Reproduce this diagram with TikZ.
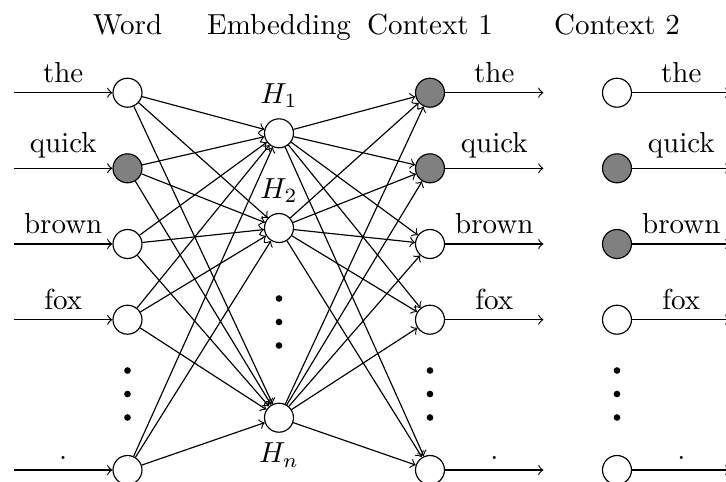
\documentclass[tikz,border=0pt]{standalone}
\begin{document}
\begin{tikzpicture}[x=0.345pt,y=-0.345pt,
  neuron/.style={circle,draw,minimum size=10pt,inner sep=0pt},
  on/.style={neuron,fill=gray},
  off/.style={neuron,fill=white},
  link/.style={->},
  wordlabel/.style={midway,above},
  heading/.style={anchor=base},
  bigdot/.style={circle,fill=black,inner sep=0pt,minimum size=2.3pt}]
\useasboundingbox (0,0) rectangle (726,481);

% column headings
\node[heading] (hword) at (127.5,34) {Word};
\node[heading] (hemb)  at (279,34)   {Embedding};
\node[heading] (hctx1) at (430,34)   {Context 1};
\node[heading] (hctx2) at (617,34)   {Context 2};

% word (input) layer
\node[off] (w1) at (127.5,92.7)  {};
\node[on]  (w2) at (127.5,168.3) {};
\node[off] (w3) at (127.5,244)   {};
\node[off] (w4) at (127.5,319.7) {};
\node[off] (w5) at (127.5,470)   {};

% embedding (hidden) layer
\node[off,label={[name=lh1]above:$H_1$}] (h1) at (279,133.3) {};
\node[off,label={[name=lh2]above:$H_2$}] (h2) at (279,228)   {};
\node[off,label={[name=lhn]below:$H_n$}] (hn) at (279,417.7) {};

% context 1 layer
\node[on]  (c1) at (430,92.7)  {};
\node[on]  (c2) at (430,168.3) {};
\node[off] (c3) at (430,244)   {};
\node[off] (c4) at (430,319.7) {};
\node[off] (c5) at (430,470)   {};

% context 2 layer
\node[off] (d1) at (617,92.7)  {};
\node[on]  (d2) at (617,168.3) {};
\node[on]  (d3) at (617,244)   {};
\node[off] (d4) at (617,319.7) {};
\node[off] (d5) at (617,470)   {};

% vertical ellipses
\foreach \col/\x in {w/127.5,c/430,d/617}{
  \node[bigdot] (\col dot1) at (\x,370.5) {};
  \node[bigdot] (\col dot2) at (\x,394)   {};
  \node[bigdot] (\col dot3) at (\x,417.5) {};
}
\node[bigdot] (hdot1) at (279,298.5) {};
\node[bigdot] (hdot2) at (279,322)   {};
\node[bigdot] (hdot3) at (279,345.5) {};

% input arrows with words
\foreach \i/\y/\t in {1/92.7/the,2/168.3/quick,3/244/brown,4/319.7/fox,5/470/.}{
  \coordinate (s\i) at (14,\y);
  \draw[link] (s\i) -- node[wordlabel] (ls\i) {\t} (w\i);
  \coordinate (e\i) at (543.5,\y);
  \draw[link] (c\i) -- node[wordlabel] (le\i) {\t} (e\i);
  \coordinate (f\i) at (730.5,\y);
  \draw[link] (d\i) -- node[wordlabel] (lf\i) {\t} (f\i);
}

% fully connected links
\foreach \i in {1,...,5}{
  \foreach \h in {1,2,n}{
    \draw[link] (w\i) -- (h\h);
    \draw[link] (h\h) -- (c\i);
  }
}
\end{tikzpicture}
\end{document}
